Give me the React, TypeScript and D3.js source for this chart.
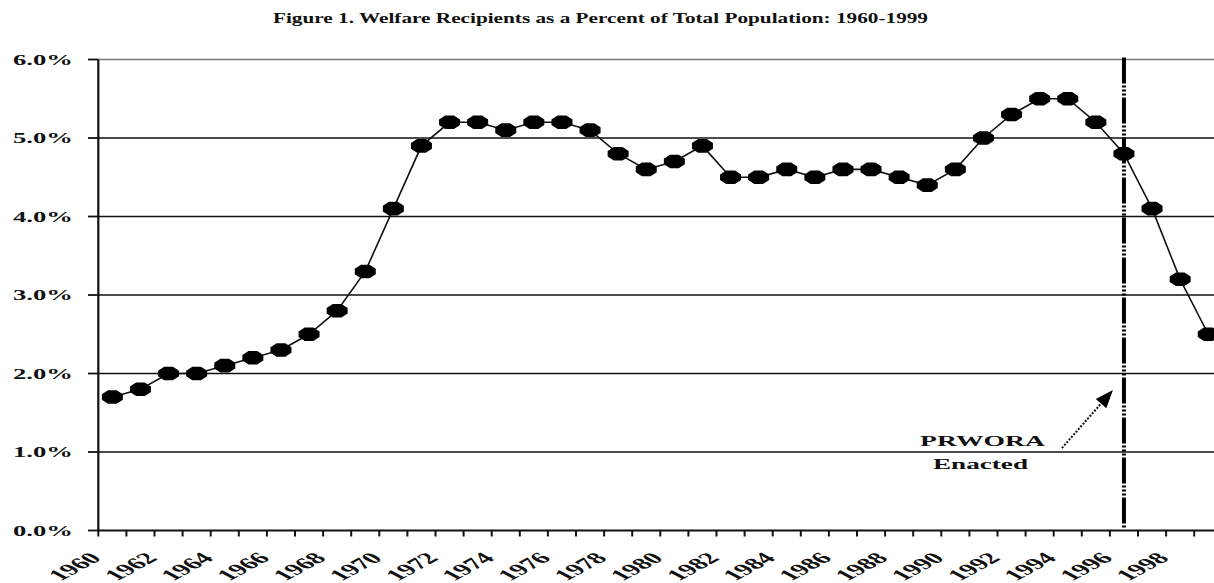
import React from "react";
import * as d3 from "d3";

const years: number[] = d3.range(1960, 2000);
const values: number[] = [
  1.7, 1.8, 2.0, 2.0, 2.1, 2.2, 2.3, 2.5, 2.8, 3.3,
  4.1, 4.9, 5.2, 5.2, 5.1, 5.2, 5.2, 5.1, 4.8, 4.6,
  4.7, 4.9, 4.5, 4.5, 4.6, 4.5, 4.6, 4.6, 4.5, 4.4,
  4.6, 5.0, 5.3, 5.5, 5.5, 5.2, 4.8, 4.1, 3.2, 2.5,
];
const yTicks: number[] = [0, 1, 2, 3, 4, 5, 6];
const xLabelYears: number[] = d3.range(1960, 2000, 2);
const title = "Figure 1. Welfare Recipients as a Percent of Total Population: 1960-1999";
const eventYear = 1996;
const annotationLines = ["PRWORA", "Enacted"];

const W = 1214;
const H = 583;
const FONT = "'Liberation Serif', 'Times New Roman', serif";

export default function App() {
  const x = d3.scaleBand<number>().domain(years).range([98.3, 98.3 + 40 * 28.1]).padding(0);
  const y = d3.scaleLinear().domain([0, 6]).range([530.5, 59.5]);
  const cx = (yr: number) => (x(yr) as number) + x.bandwidth() / 2;

  const line = d3
    .line<number>()
    .x((_, i) => cx(years[i]))
    .y((d) => y(d));

  const boundaries = years.map((yr) => x(yr) as number).concat([(x(1999) as number) + x.bandwidth()]);
  const left = 98.3;
  const ex = cx(eventYear);

  const tipX = ex - 11;
  const tipY = y(1.79);
  const tailX = ex - 62;
  const tailY = y(1.05);
  const ang = Math.atan2(tipY - tailY, tipX - tailX);
  const hl = 18;
  const hw = 7;
  const bx = tipX - hl * Math.cos(ang);
  const by = tipY - hl * Math.sin(ang);
  const head = [
    [tipX, tipY],
    [bx + hw * Math.sin(ang), by - hw * Math.cos(ang)],
    [bx - hw * Math.sin(ang), by + hw * Math.cos(ang)],
  ];

  // octagon marker (horizontally stretched)
  const oct = d3.range(8).map((k) => {
    const a = (Math.PI / 8) * (2 * k + 1);
    return [10.5 * Math.cos(a) / Math.cos(Math.PI / 8), 6.8 * Math.sin(a) / Math.cos(Math.PI / 8)];
  });
  const octPath = "M" + oct.map((p) => p.map((n) => n.toFixed(2)).join(",")).join("L") + "Z";

  return (
    <svg
      width={W}
      height={H}
      style={{ position: "absolute", left: 0, top: 0, background: "#fff" }}
      fontFamily={FONT}
      fontWeight="bold"
    >
      <rect x={0} y={0} width={W} height={H} fill="#fff" />
      <text x={273} y={23} fontSize={15} textLength={655} lengthAdjust="spacingAndGlyphs" fill="#111">
        {title}
      </text>

      {/* gridlines */}
      {yTicks.filter((t) => t > 0).map((t) => (
        <line
          key={"g" + t}
          x1={left}
          x2={W}
          y1={y(t)}
          y2={y(t)}
          stroke={t === 6 ? "#777" : "#111"}
          strokeWidth={1.6}
        />
      ))}

      {/* y axis */}
      <line x1={left} x2={left} y1={y(6)} y2={y(0) + 1} stroke="#111" strokeWidth={2.2} />
      {yTicks.map((t) => (
        <g key={"yt" + t}>
          <line x1={88} x2={left} y1={y(t)} y2={y(t)} stroke="#111" strokeWidth={1.8} />
          <text
            x={73}
            y={y(t)}
            dy="0.36em"
            textAnchor="end"
            fontSize={15}
            textLength={60}
            lengthAdjust="spacingAndGlyphs"
            fill="#111"
          >
            {t.toFixed(1) + "%"}
          </text>
        </g>
      ))}

      {/* x axis */}
      <line x1={left} x2={W} y1={y(0)} y2={y(0)} stroke="#111" strokeWidth={2.2} />
      {boundaries.map((b, i) => (
        <line key={"xt" + i} x1={b} x2={b} y1={y(0)} y2={y(0) + 6} stroke="#111" strokeWidth={2} />
      ))}
      {xLabelYears.map((yr) => (
        <text
          key={"xl" + yr}
          transform={`translate(${cx(yr) - 10},${559}) scale(1.85,1) rotate(-45)`}
          textAnchor="end"
          fontSize={16}
          fill="#111"
        >
          {yr}
        </text>
      ))}

      {/* event line */}
      <line
        x1={ex}
        x2={ex}
        y1={y(6) - 2}
        y2={y(0) - 1}
        stroke="#000"
        strokeWidth={4}
        strokeDasharray="26,2,2,2,2,2,2,2"
      />

      {/* series */}
      <path d={line(values) || ""} fill="none" stroke="#111" strokeWidth={1.6} />
      {values.map((v, i) => (
        <path key={"m" + i} d={octPath} transform={`translate(${cx(years[i])},${y(v)})`} fill="#000" />
      ))}

      {/* annotation */}
      <line x1={tailX} y1={tailY} x2={bx} y2={by} stroke="#111" strokeWidth={2} strokeDasharray="2,1.5" />
      <polygon points={head.map((p) => p.join(",")).join(" ")} fill="#000" />
      <text x={920} y={446} fontSize={15} textLength={125} lengthAdjust="spacingAndGlyphs" fill="#111">
        {annotationLines[0]}
      </text>
      <text x={933} y={469} fontSize={15} textLength={95} lengthAdjust="spacingAndGlyphs" fill="#111">
        {annotationLines[1]}
      </text>
    </svg>
  );
}
